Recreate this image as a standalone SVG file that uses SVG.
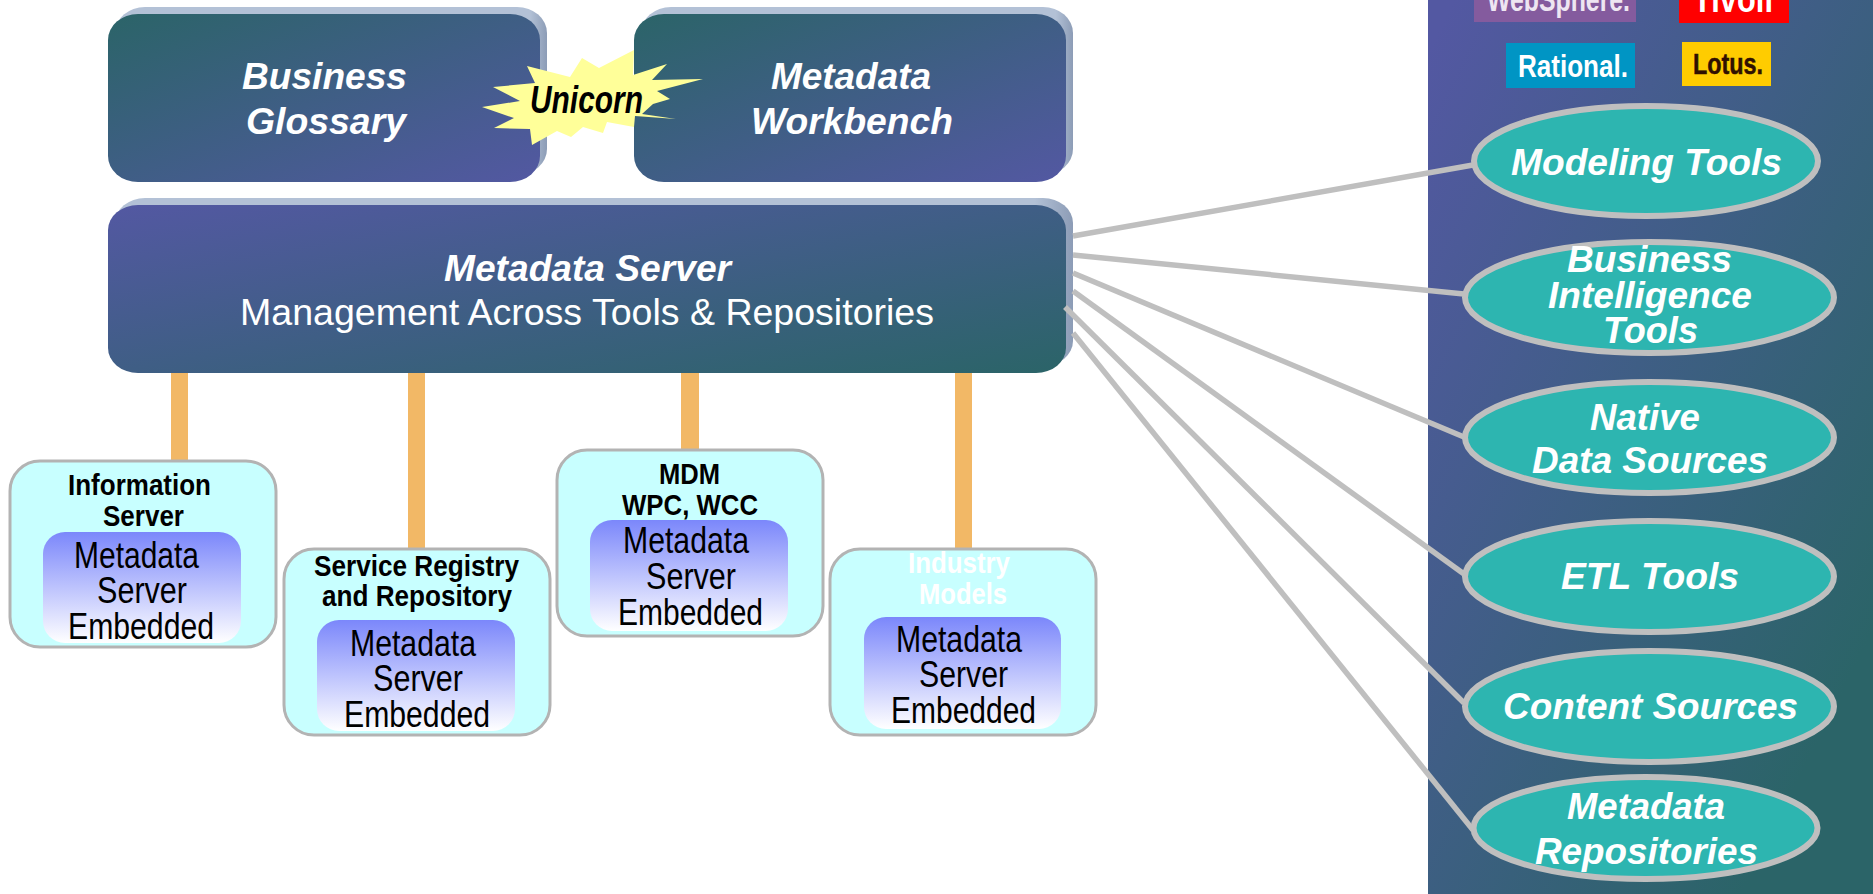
<svg xmlns="http://www.w3.org/2000/svg" width="1873" height="894" viewBox="0 0 1873 894">
<style>
text{font-family:"Liberation Sans",Arial,sans-serif}
.h{font-weight:bold;font-style:italic;fill:#fff;font-size:37px}
.e{font-weight:bold;font-style:italic;fill:#fff;font-size:37px}
.t{font-weight:bold;font-size:30px;fill:#000}
.m{font-size:36px;fill:#000}
.box{fill:#c8ffff;stroke:#b3b3b3;stroke-width:3}
.inner{fill:url(#gi)}
.el{fill:#2db5b0;stroke:#bfbfbf;stroke-width:6}
.ln{stroke:#bfbfbf;stroke-width:5.5;fill:none}
.or{fill:#f2b866}
.sh{fill:url(#gs)}
</style>
<defs>
<linearGradient id="gt" x1="0" y1="0" x2="1" y2="1"><stop offset="0" stop-color="#2b6468"/><stop offset="1" stop-color="#5358a2"/></linearGradient>
<linearGradient id="gm" x1="0" y1="0" x2="1" y2="1"><stop offset="0" stop-color="#5358a2"/><stop offset="1" stop-color="#2b6468"/></linearGradient>
<linearGradient id="gp" x1="0" y1="0" x2="1" y2="1"><stop offset="0.03" stop-color="#5358a2"/><stop offset="0.85" stop-color="#2b6468"/></linearGradient>
<linearGradient id="gi" x1="0" y1="0" x2="0" y2="1"><stop offset="0" stop-color="#7b87fb"/><stop offset="1" stop-color="#ffffff"/></linearGradient>
<linearGradient id="gs" x1="0" y1="0" x2="1" y2="0"><stop offset="0.96" stop-color="#b3c1d6"/><stop offset="1" stop-color="#8c9cb6"/></linearGradient>
</defs>
<rect width="1873" height="894" fill="#fff"/>
<g id="tools-panel"><rect x="1428" y="-2" width="447" height="898" fill="url(#gp)"/></g>
<g id="logo-websphere"><rect x="1474" y="-2" width="162" height="24" fill="#845b9e"/><text x="1487" y="11" font-size="34" font-weight="bold" fill="#eee6f2" textLength="143" lengthAdjust="spacingAndGlyphs">WebSphere.</text></g>
<g id="logo-tivoli"><rect x="1679" y="-2" width="110" height="25" fill="#ff0000"/><text x="1693" y="12" font-size="36" font-weight="bold" fill="#fff" textLength="80" lengthAdjust="spacingAndGlyphs">Tivoli</text></g>
<g id="logo-rational"><rect x="1506" y="43" width="129" height="45" fill="#0095c4"/><text x="1518" y="77" font-size="32" font-weight="bold" fill="#fff" textLength="110" lengthAdjust="spacingAndGlyphs">Rational.</text></g>
<g id="logo-lotus"><rect x="1682" y="42" width="89" height="44" fill="#ffcc00"/><text x="1693" y="74" font-size="29" font-weight="bold" fill="#301000" stroke="#301000" stroke-width=".5" textLength="70" lengthAdjust="spacingAndGlyphs">Lotus.</text></g>
<g id="business-glossary">
<rect class="sh" x="115" y="7" width="432" height="168" rx="30" ry="26"/>
<rect x="108" y="14" width="432" height="168" rx="30" ry="26" fill="url(#gt)"/>
<text class="h" x="242" y="89" textLength="165" lengthAdjust="spacingAndGlyphs">Business</text>
<text class="h" x="246" y="134" textLength="160" lengthAdjust="spacingAndGlyphs">Glossary</text>
</g>
<g id="metadata-workbench">
<rect class="sh" x="641" y="7" width="432" height="168" rx="30" ry="26"/>
<rect x="634" y="14" width="432" height="168" rx="30" ry="26" fill="url(#gt)"/>
<text class="h" x="771" y="89" textLength="160" lengthAdjust="spacingAndGlyphs">Metadata</text>
<text class="h" x="751" y="134" textLength="202" lengthAdjust="spacingAndGlyphs">Workbench</text>
</g>
<g id="unicorn">
<polygon points="527,66 570,77 582,58 599,68 634,50 633,75 667,64 652,80 703,79 657,91 670,99 653,104 642,114 676,119 635,116 634,127 607,122 603,133 583,127 571,137 557,131 532,145 530,129 494,128 514,118 482,107 520,101 493,87 535,83" fill="#ffff99"/>
<text x="530" y="113" font-size="38" font-weight="bold" font-style="italic" fill="#000" textLength="113" lengthAdjust="spacingAndGlyphs">Unicorn</text>
</g>
<g id="metadata-server">
<rect class="sh" x="115" y="198" width="958" height="168" rx="30" ry="25"/>
<rect x="108" y="205" width="958" height="168" rx="30" ry="25" fill="url(#gm)"/>
<text class="h" x="444" y="281" textLength="287" lengthAdjust="spacingAndGlyphs">Metadata Server</text>
<text x="240" y="325" font-size="37" fill="#fff" textLength="694" lengthAdjust="spacingAndGlyphs">Management Across Tools &amp; Repositories</text>
</g>
<g id="connectors">
<rect class="or" x="171" y="373" width="17" height="88"/>
<rect class="or" x="408" y="373" width="17" height="176"/>
<rect class="or" x="681" y="373" width="18" height="77"/>
<rect class="or" x="955" y="373" width="17" height="176"/>
<line class="ln" x1="1073" y1="236" x2="1473" y2="165"/>
<line class="ln" x1="1073" y1="255" x2="1464" y2="294"/>
<line class="ln" x1="1073" y1="273" x2="1464" y2="437"/>
<line class="ln" x1="1073" y1="291" x2="1464" y2="574"/>
<line class="ln" x1="1065" y1="307" x2="1464" y2="703"/>
<line class="ln" x1="1073" y1="333" x2="1473" y2="830"/>
</g>
<g id="information-server">
<rect class="box" x="10" y="461" width="266" height="186" rx="30" ry="30"/>
<rect class="inner" x="43" y="532" width="198" height="111" rx="22" ry="22"/>
<text class="t" x="68" y="495" textLength="143" lengthAdjust="spacingAndGlyphs">Information</text>
<text class="t" x="103" y="526" textLength="81" lengthAdjust="spacingAndGlyphs">Server</text>
<text class="m" x="74" y="568" textLength="125" lengthAdjust="spacingAndGlyphs">Metadata</text>
<text class="m" x="97" y="603" textLength="90" lengthAdjust="spacingAndGlyphs">Server</text>
<text class="m" x="68" y="639" textLength="146" lengthAdjust="spacingAndGlyphs">Embedded</text>
</g>
<g id="service-registry">
<rect class="box" x="284" y="549" width="266" height="186" rx="30" ry="30"/>
<rect class="inner" x="317" y="620" width="198" height="111" rx="22" ry="22"/>
<text class="t" x="314" y="576" textLength="205" lengthAdjust="spacingAndGlyphs">Service Registry</text>
<text class="t" x="322" y="606" textLength="190" lengthAdjust="spacingAndGlyphs">and Repository</text>
<text class="m" x="350" y="656" textLength="126" lengthAdjust="spacingAndGlyphs">Metadata</text>
<text class="m" x="373" y="691" textLength="90" lengthAdjust="spacingAndGlyphs">Server</text>
<text class="m" x="344" y="727" textLength="146" lengthAdjust="spacingAndGlyphs">Embedded</text>
</g>
<g id="mdm">
<rect class="box" x="557" y="450" width="266" height="186" rx="30" ry="30"/>
<rect class="inner" x="590" y="520" width="198" height="111" rx="22" ry="22"/>
<text class="t" x="659" y="484" textLength="61" lengthAdjust="spacingAndGlyphs">MDM</text>
<text class="t" x="622" y="515" textLength="136" lengthAdjust="spacingAndGlyphs">WPC, WCC</text>
<text class="m" x="623" y="553" textLength="126" lengthAdjust="spacingAndGlyphs">Metadata</text>
<text class="m" x="646" y="589" textLength="90" lengthAdjust="spacingAndGlyphs">Server</text>
<text class="m" x="618" y="625" textLength="145" lengthAdjust="spacingAndGlyphs">Embedded</text>
</g>
<g id="industry-models">
<rect class="box" x="830" y="549" width="266" height="186" rx="30" ry="30"/>
<rect class="inner" x="864" y="617" width="197" height="112" rx="22" ry="22"/>
<text class="t" style="fill:#fff" x="908" y="573" textLength="102" lengthAdjust="spacingAndGlyphs">Industry</text>
<text class="t" style="fill:#fff" x="919" y="604" textLength="88" lengthAdjust="spacingAndGlyphs">Models</text>
<text class="m" x="896" y="652" textLength="126" lengthAdjust="spacingAndGlyphs">Metadata</text>
<text class="m" x="919" y="687" textLength="89" lengthAdjust="spacingAndGlyphs">Server</text>
<text class="m" x="891" y="723" textLength="145" lengthAdjust="spacingAndGlyphs">Embedded</text>
</g>
<g id="modeling-tools">
<ellipse class="el" cx="1646" cy="161" rx="172" ry="55"/>
<text class="e" x="1511" y="175" textLength="271" lengthAdjust="spacingAndGlyphs">Modeling Tools</text>
</g>
<g id="bi-tools">
<ellipse class="el" cx="1649.5" cy="297.5" rx="184.5" ry="55.5"/>
<text class="e" x="1567" y="272" textLength="165" lengthAdjust="spacingAndGlyphs">Business</text>
<text class="e" x="1548" y="308" textLength="204" lengthAdjust="spacingAndGlyphs">Intelligence</text>
<text class="e" x="1603" y="343" textLength="95" lengthAdjust="spacingAndGlyphs">Tools</text>
</g>
<g id="native-data-sources">
<ellipse class="el" cx="1649.5" cy="437.5" rx="184.5" ry="55.5"/>
<text class="e" x="1590" y="430" textLength="110" lengthAdjust="spacingAndGlyphs">Native</text>
<text class="e" x="1532" y="473" textLength="236" lengthAdjust="spacingAndGlyphs">Data Sources</text>
</g>
<g id="etl-tools">
<ellipse class="el" cx="1649.5" cy="576.5" rx="184.5" ry="55.5"/>
<text class="e" x="1561" y="589" textLength="178" lengthAdjust="spacingAndGlyphs">ETL Tools</text>
</g>
<g id="content-sources">
<ellipse class="el" cx="1649.5" cy="706.5" rx="184.5" ry="55.5"/>
<text class="e" x="1503" y="719" textLength="295" lengthAdjust="spacingAndGlyphs">Content Sources</text>
</g>
<g id="metadata-repositories">
<ellipse class="el" cx="1645.5" cy="828" rx="172" ry="51"/>
<text class="e" x="1567" y="819" textLength="158" lengthAdjust="spacingAndGlyphs">Metadata</text>
<text class="e" x="1535" y="864" textLength="223" lengthAdjust="spacingAndGlyphs">Repositories</text>
</g>
</svg>
